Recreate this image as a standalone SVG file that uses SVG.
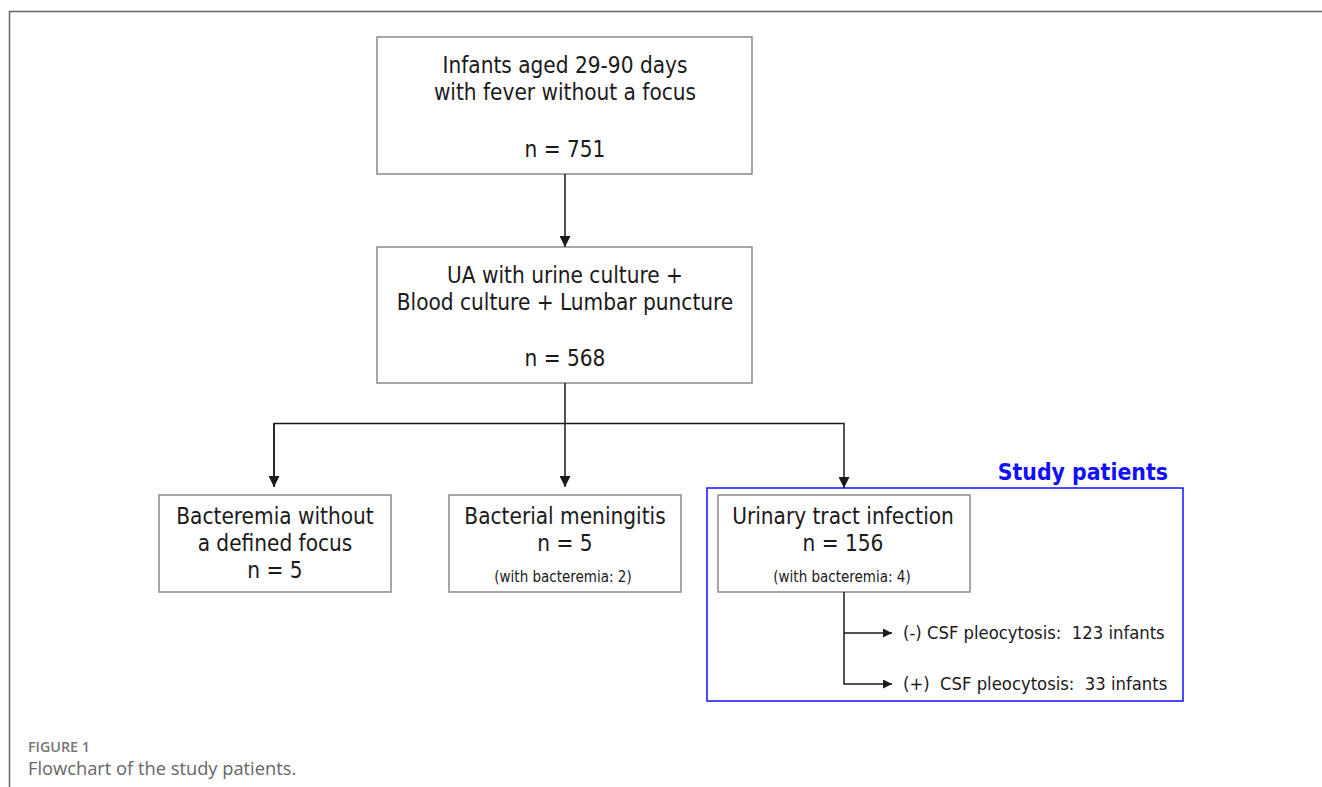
<svg xmlns="http://www.w3.org/2000/svg" width="1322" height="787" viewBox="0 0 1322 787">
<style>
.box{fill:#fff;stroke:#8a8a8a;stroke-width:1.5}
.t{font-family:"DejaVu Sans Condensed","DejaVu Sans",sans-serif;font-size:22.4px;fill:#1a1a1a;text-anchor:middle}
.s{font-family:"DejaVu Sans Condensed","DejaVu Sans",sans-serif;font-size:15px;fill:#1a1a1a;text-anchor:middle}
.l{font-family:"DejaVu Sans Condensed","DejaVu Sans",sans-serif;font-size:18.3px;fill:#1a1a1a;white-space:pre}
.c{fill:none;stroke:#1a1a1a;stroke-width:1.5}
</style>
<defs>
<marker id="ah" viewBox="0 0 10 10" refX="10" refY="5" markerWidth="9" markerHeight="9" markerUnits="userSpaceOnUse" orient="auto"><path d="M0,0 L10,5 L0,10 Z" fill="#1a1a1a"/></marker>
<marker id="ah2" viewBox="0 0 10 10" refX="10" refY="5" markerWidth="11" markerHeight="11" markerUnits="userSpaceOnUse" orient="auto"><path d="M0,0 L10,5 L0,10 Z" fill="#1a1a1a"/></marker>
</defs>
<rect width="1322" height="787" fill="#fff"/>
<path d="M9.5,787 V11.5 H1322" fill="none" stroke="#666" stroke-width="1.5"/>
<g id="study">
<rect x="707" y="488" width="476" height="213" fill="none" stroke="#1010ff" stroke-width="1.5"/>
<text x="1168" y="480" text-anchor="end" font-family="'DejaVu Sans Condensed','DejaVu Sans',sans-serif" font-size="22.8" font-weight="bold" fill="#1010ff">Study patients</text>
</g>
<g id="n1">
<rect class="box" x="377" y="37" width="375" height="137"/>
<text class="t" x="565" y="73">Infants aged 29-90 days</text>
<text class="t" x="565" y="100">with fever without a focus</text>
<text class="t" x="565" y="157">n = 751</text>
</g>
<g id="n2">
<rect class="box" x="377" y="247" width="375" height="136"/>
<text class="t" x="565" y="283">UA with urine culture +</text>
<text class="t" x="565" y="310">Blood culture + Lumbar puncture</text>
<text class="t" x="565" y="366">n = 568</text>
</g>
<g id="n3">
<rect class="box" x="159" y="495" width="232" height="97"/>
<text class="t" x="275" y="524">Bacteremia without</text>
<text class="t" x="275" y="551">a defined focus</text>
<text class="t" x="275" y="578">n = 5</text>
</g>
<g id="n4">
<rect class="box" x="449" y="495" width="232" height="97"/>
<text class="t" x="565" y="524">Bacterial meningitis</text>
<text class="t" x="565" y="551">n = 5</text>
<text class="s" x="563" y="582">(with bacteremia: 2)</text>
</g>
<g id="n5">
<rect class="box" x="718" y="495" width="252" height="97"/>
<text class="t" x="843" y="524">Urinary tract infection</text>
<text class="t" x="843" y="551">n = 156</text>
<text class="s" x="842" y="582">(with bacteremia: 4)</text>
</g>
<g id="n6">
<text class="l" x="903" y="639" xml:space="preserve">(-) CSF pleocytosis:  123 infants</text>
</g>
<g id="n7">
<text class="l" x="903" y="690" xml:space="preserve">(+)  CSF pleocytosis:  33 infants</text>
</g>
<g id="connectors">
<path class="c" d="M565,174 V247" marker-end="url(#ah2)"/>
<path class="c" d="M565,383 V487" marker-end="url(#ah2)"/>
<path class="c" d="M274,487 V423.5 H844 V488" marker-end="url(#ah2)"/>
<path class="c" d="M274,423.5 V487" marker-end="url(#ah2)"/>
<path class="c" d="M844,592 V684 H892" marker-end="url(#ah)"/>
<path class="c" d="M844,633 H892" marker-end="url(#ah)"/>
</g>
<g id="caption">
<text x="28" y="752" font-family="'Open Sans',sans-serif" font-size="14.3" font-weight="600" fill="#777">FIGURE 1</text>
<text x="28" y="775" font-family="'Open Sans',sans-serif" font-size="18.3" fill="#666">Flowchart of the study patients.</text>
</g>
</svg>
